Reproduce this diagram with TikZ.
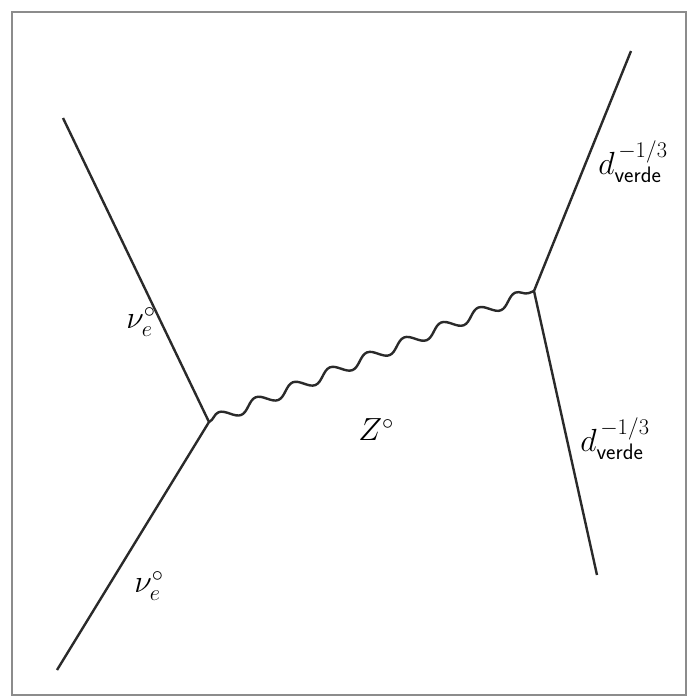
\RequirePackage{fix-cm}
\documentclass[tikz,border=0pt]{standalone}
\usepackage{amsmath}
\usepackage{tikz}
\usetikzlibrary{decorations.pathmorphing}
\definecolor{FrameGray}{HTML}{8C8C8C}
\definecolor{LineInk}{HTML}{2A2A2A}

\begin{document}
\begin{tikzpicture}[x=1pt,y=-1pt,
    fermion/.style={draw=LineInk,line width=2.4pt},
    boson/.style={draw=LineInk,line width=2.4pt,
      decorate,decoration={snake,amplitude=5.5pt,segment length=40pt}},
    lab/.style={inner sep=0pt,font=\fontsize{32}{38}\selectfont}]
    \useasboundingbox (0,0) rectangle (688,697);
    \draw[FrameGray,line width=1.6pt] (12,12) rectangle (686,695);
    % vertices and free ends
    \coordinate (vl) at (209,422);
    \coordinate (vr) at (534,291);
    \coordinate (nuin) at (63,118);
    \coordinate (nuout) at (57,670);
    \coordinate (dout) at (631,51);
    \coordinate (din) at (597,575);
    \draw[fermion] (nuin) -- (vl) -- (nuout);
    \draw[fermion] (dout) -- (vr) -- (din);
    \draw[boson] (vl) -- (vr);
    % labels
    \node[lab] (nutop) at (141,322) {$\nu_e^{\circ}$};
    \node[lab] (nubot) at (149,586) {$\nu_e^{\circ}$};
    \node[lab] (zlab) at (376,430) {$Z^{\circ}$};
    \node[lab] (dtop) at (633,162) {$d^{\,-1/3}_{\text{\sffamily verde}}$};
    \node[lab] (dbot) at (615,439) {$d^{\,-1/3}_{\text{\sffamily verde}}$};
\end{tikzpicture}
\end{document}
